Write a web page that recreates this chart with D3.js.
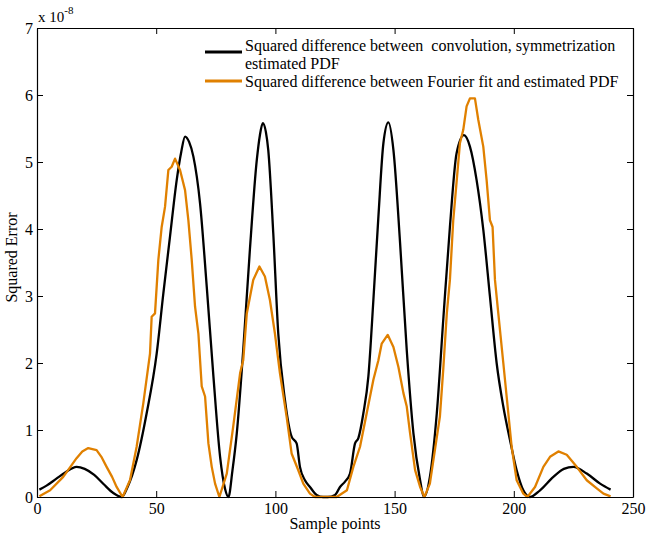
<!DOCTYPE html>
<html>
<head>
<meta charset="utf-8">
<script src="https://cdn.jsdelivr.net/npm/d3@7"></script>
<style>
  html, body { margin: 0; padding: 0; background: #fff; }
  svg { display: block; }
  text { font-family: "Liberation Serif", "Times New Roman", serif; fill: #000; }
</style>
</head>
<body>
<svg id="chart" width="646" height="542"></svg>
<script>
// ---- data (values in units of 1e-8) ----
const xTicks = [0, 50, 100, 150, 200, 250];
const yTicks = [0, 1, 2, 3, 4, 5, 6, 7];

const convX = [1, 4, 8, 12, 16.6, 20, 24, 28, 32, 35.5, 38, 41.8, 46, 50.2, 53, 55.8, 58.6, 60.5, 62.1, 63.8, 65.6, 68.4, 71.2, 74, 76.8, 78.9, 80.3, 82, 83.8, 86.5, 89.3, 92.2, 93.5, 94.7, 96, 97, 99.1, 101.2, 104, 106.8, 108.9, 110.3, 112.4, 114.5, 117.3, 120, 122, 125, 127.1, 129.2, 131.3, 133.4, 134.8, 136.9, 139, 141.1, 143.2, 145.3, 147.4, 149.5, 152.3, 155.1, 157.9, 160.7, 162.3, 164.8, 167.7, 170.5, 173.2, 176, 179.1, 181.6, 184.4, 187.2, 190, 192.8, 195.6, 198.4, 201.2, 204, 206.8, 211, 216.6, 221, 225, 230.6, 236.2, 240.6];
const convY = [0.11, 0.17, 0.27, 0.37, 0.45, 0.42, 0.33, 0.19, 0.06, 0.0, 0.15, 0.55, 1.25, 2.14, 3.04, 3.89, 4.73, 5.15, 5.38, 5.3, 5.08, 4.38, 3.14, 1.8, 0.6, 0.12, 0.0, 0.4, 0.95, 2.19, 3.69, 5.03, 5.4, 5.58, 5.45, 5.18, 3.94, 2.44, 1.45, 0.9, 0.8, 0.45, 0.25, 0.15, 0.03, 0.0, 0.0, 0.03, 0.15, 0.23, 0.35, 0.8, 0.88, 1.25, 1.8, 2.94, 4.18, 5.28, 5.59, 5.18, 3.79, 2.19, 0.95, 0.25, 0.0, 0.3, 1.25, 2.69, 4.03, 5.13, 5.4, 5.23, 4.73, 3.99, 2.99, 2.0, 1.35, 0.85, 0.4, 0.1, 0.0, 0.1, 0.3, 0.42, 0.45, 0.35, 0.2, 0.11];

const fourX = [1, 5.5, 11, 14, 16.6, 19, 21.5, 25, 27, 29.2, 31.5, 33.4, 35.9, 39, 41.8, 44.6, 47.4, 48.1, 49.5, 50.9, 52.3, 53.7, 55.1, 56.5, 57.9, 60, 62.1, 63.5, 64.9, 66.3, 67.7, 69.1, 70.5, 71.9, 73.3, 74.7, 76.5, 79.6, 82.3, 85.2, 86.5, 88, 90.7, 93.3, 95.6, 97.7, 99.8, 101.9, 104.7, 106.8, 109.6, 111.7, 114.5, 116.6, 125.7, 130, 132.7, 135.5, 138.3, 141.1, 143.2, 144.6, 147.1, 149.5, 151.6, 153.7, 155.1, 156.5, 158.6, 160.7, 162.5, 164.8, 166.9, 169, 170.4, 171.9, 173.2, 174.6, 176, 177.4, 178.8, 180.2, 181.6, 183.7, 185.1, 187.2, 188.6, 190, 191.1, 192.1, 193.5, 195.6, 197.7, 199.1, 201.2, 204, 205.7, 208.9, 212.4, 215.2, 218.7, 222.2, 226.4, 230.6, 234.8, 237.6, 240.6];
const fourY = [0.01, 0.1, 0.3, 0.45, 0.58, 0.68, 0.73, 0.7, 0.6, 0.45, 0.3, 0.15, 0.0, 0.25, 0.75, 1.4, 2.14, 2.69, 2.74, 3.54, 4.03, 4.33, 4.88, 4.93, 5.05, 4.88, 4.58, 4.13, 3.54, 2.84, 2.44, 1.65, 1.5, 0.8, 0.45, 0.2, 0.0, 0.35, 1.05, 1.85, 2.04, 2.74, 3.24, 3.44, 3.29, 2.94, 2.44, 1.85, 1.2, 0.65, 0.4, 0.2, 0.05, 0.0, 0.0, 0.1, 0.45, 0.75, 1.25, 1.75, 2.04, 2.29, 2.42, 2.24, 1.94, 1.55, 1.35, 0.95, 0.4, 0.15, 0.0, 0.2, 0.7, 1.2, 1.9, 2.74, 3.24, 4.13, 4.7, 5.28, 5.48, 5.83, 5.95, 5.95, 5.63, 5.23, 4.73, 4.13, 4.03, 3.24, 2.74, 2.0, 1.25, 0.75, 0.25, 0.05, 0.0, 0.15, 0.45, 0.6, 0.68, 0.63, 0.45, 0.25, 0.13, 0.05, 0.01];

const legendLabels = [
  ["Squared difference between  convolution, symmetrization", "estimated PDF"],
  ["Squared difference between Fourier fit and estimated PDF"]
];
const colors = ["#000000", "#e08000"];

// ---- layout ----
const svg = d3.select("#chart");
const L = 37, R = 633, T = 28, B = 497;
const x = d3.scaleLinear().domain([0, 250]).range([L, R]);
const y = d3.scaleLinear().domain([0, 7]).range([B, T]);
const SERIF = '"Liberation Serif", "Times New Roman", serif';

// curves
const conv = convX.map((v, i) => [v, convY[i]]);
const four = fourX.map((v, i) => [v, fourY[i]]);

svg.append("path").datum(conv)
  .attr("fill", "none").attr("stroke", colors[0]).attr("stroke-width", 2.3)
  .attr("stroke-linejoin", "round")
  .attr("d", d3.line().x(d => x(d[0])).y(d => y(d[1])).curve(d3.curveMonotoneX));
svg.append("path").datum(four)
  .attr("fill", "none").attr("stroke", colors[1]).attr("stroke-width", 2.3)
  .attr("stroke-linejoin", "round")
  .attr("d", d3.line().x(d => x(d[0])).y(d => y(d[1])).curve(d3.curveLinear));

// axes
function styleAxis(g) {
  g.attr("font-family", null).attr("font-size", null);
  g.selectAll("path.domain").attr("stroke", "#000").attr("stroke-width", 1.2);
  g.selectAll(".tick line").attr("stroke", "#000").attr("stroke-width", 1);
  g.selectAll(".tick text").style("font-family", SERIF).style("font-size", "16px").attr("fill", "#000");
}
const fmt = d3.format("d");
svg.append("g").attr("transform", `translate(0,${B})`)
  .call(d3.axisBottom(x).tickValues(xTicks).tickFormat(fmt).tickSizeInner(-6).tickSizeOuter(0).tickPadding(6))
  .call(styleAxis);
svg.append("g").attr("transform", `translate(0,${T})`)
  .call(d3.axisTop(x).tickValues(xTicks).tickSizeInner(-6).tickSizeOuter(0).tickFormat(""))
  .call(styleAxis);
svg.append("g").attr("transform", `translate(${L},0)`)
  .call(d3.axisLeft(y).tickValues(yTicks).tickFormat(fmt).tickSizeInner(-6).tickSizeOuter(0).tickPadding(4))
  .call(styleAxis);
svg.append("g").attr("transform", `translate(${R},0)`)
  .call(d3.axisRight(y).tickValues(yTicks).tickSizeInner(-6).tickSizeOuter(0).tickFormat(""))
  .call(styleAxis);

// exponent label
const ex = svg.append("text").attr("x", 38).attr("y", 22).style("font-size", "15px");
ex.append("tspan").text("x 10");
ex.append("tspan").attr("dy", -8).style("font-size", "11px").text("-8");

// axis titles
svg.append("text").attr("x", (L + R) / 2).attr("y", 529)
  .attr("text-anchor", "middle").style("font-size", "16px").text("Sample points");
svg.append("text").attr("transform", `translate(17,${(T + B) / 2 - 5}) rotate(-90)`)
  .attr("text-anchor", "middle").style("font-size", "16px").text("Squared Error");

// legend
const leg = svg.append("g");
const legRows = [{ lineY: 52, texts: [[51, 0], [69, 1]] }, { lineY: 81, texts: [[87, 0]] }];
legRows.forEach((r, i) => {
  leg.append("line").attr("x1", 205).attr("x2", 242).attr("y1", r.lineY).attr("y2", r.lineY)
    .attr("stroke", colors[i]).attr("stroke-width", 3);
  r.texts.forEach(([ty, k]) => {
    leg.append("text").attr("x", 245).attr("y", ty).style("font-size", "16px")
      .style("white-space", "pre").text(legendLabels[i][k]);
  });
});
</script>
</body>
</html>
